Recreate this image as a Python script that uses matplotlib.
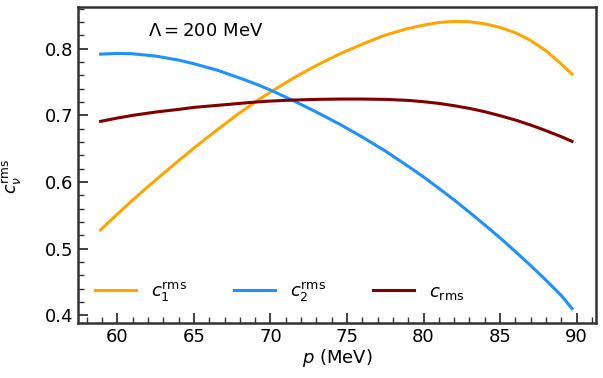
import matplotlib
matplotlib.use("Agg")
import matplotlib.pyplot as plt
from matplotlib.ticker import MultipleLocator

p = [58.9, 60, 61, 62.5, 64, 65, 66.5, 68, 69, 70, 71.5, 73, 74.5, 76, 77.5, 79,
     80, 81, 82, 83, 84, 85, 86, 87, 88, 89, 89.7]
c1 = [0.528, 0.552, 0.573, 0.603, 0.632, 0.651, 0.678, 0.704, 0.720, 0.735, 0.756, 0.775,
      0.792, 0.807, 0.8205, 0.8305, 0.8355, 0.8395, 0.841, 0.8405, 0.8375, 0.832, 0.824,
      0.8125, 0.797, 0.777, 0.762]
c2 = [0.792, 0.793, 0.7925, 0.789, 0.783, 0.7775, 0.768, 0.756, 0.7475, 0.738, 0.722, 0.705,
      0.687, 0.6675, 0.6465, 0.6235, 0.6075, 0.5905, 0.573, 0.5545, 0.5355, 0.516, 0.4955,
      0.4745, 0.4525, 0.4295, 0.410]
crms = [0.691, 0.696, 0.700, 0.705, 0.709, 0.712, 0.715, 0.718, 0.720, 0.7215, 0.723, 0.724,
        0.7245, 0.7245, 0.724, 0.7225, 0.7205, 0.718, 0.7145, 0.7105, 0.7055, 0.6995, 0.693,
        0.6855, 0.677, 0.668, 0.661]

fig, ax = plt.subplots(figsize=(6.03, 3.78), dpi=100)
ax.plot(p, c1, color="orange", lw=2.2, label=r"$c_1^{\rm rms}$")
ax.plot(p, c2, color="dodgerblue", lw=2.2, label=r"$c_2^{\rm rms}$")
ax.plot(p, crms, color="maroon", lw=2.2, label=r"$c_{\rm rms}$")

ax.set_xlim(57.45, 91.25)
ax.set_ylim(0.388, 0.863)
ax.xaxis.set_major_locator(MultipleLocator(5))
ax.xaxis.set_minor_locator(MultipleLocator(1))
ax.yaxis.set_major_locator(MultipleLocator(0.1))
ax.yaxis.set_minor_locator(MultipleLocator(0.02))
ax.tick_params(which="both", direction="in", labelsize=13, color="#333333")
ax.tick_params(which="major", length=7, width=1.3)
ax.tick_params(which="minor", length=4, width=1.0)
for s in ax.spines.values():
    s.set_linewidth(1.8)
    s.set_color("#333333")

ax.set_xlabel(r"$p$ (MeV)", fontsize=13, labelpad=1)
ax.set_ylabel(r"$c_\nu^{\rm rms}$", fontsize=12.5)
ax.yaxis.set_label_coords(-0.106, 0.465)
ax.text(0.245, 0.924, r"$\Lambda = 200$ MeV", transform=ax.transAxes, fontsize=13,
        ha="center", va="center")
ax.legend(loc="lower left", ncol=3, frameon=False, fontsize=13, handlelength=2.3,
          columnspacing=2.6, bbox_to_anchor=(0.0, 0.01))

fig.subplots_adjust(left=0.13, right=0.988, top=0.982, bottom=0.145)
fig.savefig("out.png", dpi=100)
